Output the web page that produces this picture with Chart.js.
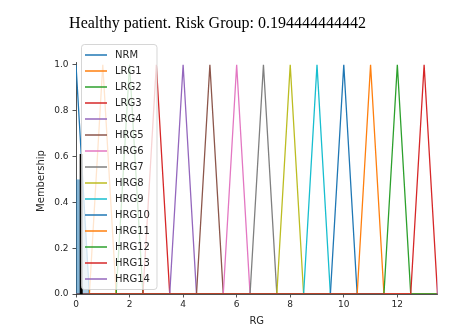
<!DOCTYPE html>
<html>
<head>
<meta charset="utf-8">
<script src="https://cdn.jsdelivr.net/npm/chart.js@4.4.1/dist/chart.umd.min.js"></script>
<style>
  html, body { margin: 0; padding: 0; background: #fff; }
  #chart { display: block; }
</style>
</head>
<body>
<canvas id="chart" width="468" height="335"></canvas>
<script>
/*
   FUZZY MEMBERSHIP DATA
 */
const termNames = ['NRM', 'LRG1', 'LRG2', 'LRG3', 'LRG4', 'HRG5', 'HRG6', 'HRG7',
                   'HRG8', 'HRG9', 'HRG10', 'HRG11', 'HRG12', 'HRG13', 'HRG14'];
const termLeft  = [0, 0.5, 1.5, 2.5, 3.5, 4.5, 5.5, 6.5, 7.5, 8.5, 9.5, 10.5, 11.5, 12.5, 13.5];
const termPeak  = [0, 1, 2, 3, 4, 5, 6, 7, 8, 9, 10, 11, 12, 13, 14];
const termRight = [0.5, 1.5, 2.5, 3.5, 4.5, 5.5, 6.5, 7.5, 8.5, 9.5, 10.5, 11.5, 12.5, 13.5, 14.5];
const termColors = ['#1f77b4', '#ff7f0e', '#2ca02c', '#d62728', '#9467bd', '#8c564b', '#e377c2',
                    '#7f7f7f', '#bcbd22', '#17becf', '#1f77b4', '#ff7f0e', '#2ca02c', '#d62728', '#9467bd'];

const universe = [0, 13.5];
const xTicks = [0, 2, 4, 6, 8, 10, 12];
const yTicks = [0, 0.2, 0.4, 0.6, 0.8, 1.0];

const crispValue = 0.194444444442;
const activation = 0.5;          // NRM cut level
const titleText = 'Healthy patient. Risk Group: ' + crispValue;

// triangle sampled at its corners, padded with zeros to the universe
function trimf(a, b, c) {
    const pts = [];
    const inside = a < universe[1];
    if (inside && a > universe[0]) pts.push({ x: universe[0], y: 0 });
    if (a < b) pts.push({ x: a, y: 0 });
    pts.push({ x: b, y: 1 });
    if (c > b) pts.push({ x: c, y: 0 });
    if (inside && c < universe[1]) pts.push({ x: universe[1], y: 0 });
    return pts;
}

const datasets = termNames.map((name, i) => ({
    label: name,
    data: trimf(termLeft[i], termPeak[i], termRight[i]),
    borderColor: termColors[i],
    backgroundColor: termColors[i],
    borderWidth: 1.3,
    pointRadius: 0,
    tension: 0,
    fill: false,
    order: -i
}));

// activated NRM area (cut at activation level)
const nrmCut = trimf(termLeft[0], termPeak[0], termRight[0]).map(p => ({ x: p.x, y: Math.min(p.y, activation) }));
nrmCut.splice(1, 0, { x: termRight[0] * (1 - activation), y: activation });
datasets.push({
    label: '_fill',
    data: nrmCut,
    borderWidth: 0,
    pointRadius: 0,
    backgroundColor: 'rgba(31,119,180,0.35)',
    fill: 'origin',
    order: -100
});
datasets.push({
    label: '_fill2',
    data: [{ x: 0, y: activation }, { x: crispValue, y: activation }],
    borderWidth: 0,
    pointRadius: 0,
    backgroundColor: 'rgba(31,119,180,0.3)',
    fill: 'origin',
    order: -101
});

// crisp value marker
const crispHeight = 1 - crispValue / termRight[0];
datasets.push({
    label: '_crisp',
    data: [{ x: crispValue, y: 0 }, { x: crispValue, y: crispHeight }],
    borderColor: '#000',
    borderWidth: 3,
    pointRadius: 0,
    fill: false,
    order: -102
});

// --- overlay: title, axis titles, legend ---
const overlay = {
    id: 'overlay',
    afterDatasetsDraw(chart) {
        const c = chart.ctx;
        const area = chart.chartArea;
        c.save();

        // legend box
        const bx = 81.5, by = 44.5, bw = 75.5, bh = 245;
        c.beginPath();
        c.roundRect(bx, by, bw, bh, 3);
        c.fillStyle = 'rgba(255,255,255,0.8)';
        c.fill();
        c.strokeStyle = 'rgba(204,204,204,0.8)';
        c.lineWidth = 1;
        c.stroke();

        c.font = '10px "DejaVu Sans"';
        c.textBaseline = 'middle';
        c.textAlign = 'left';
        termNames.forEach((name, i) => {
            const y = 55 + i * 16;
            c.beginPath();
            c.moveTo(85, y);
            c.lineTo(107, y);
            c.strokeStyle = termColors[i];
            c.lineWidth = 1.5;
            c.stroke();
            c.fillStyle = '#262626';
            c.fillText(name, 115, y);
        });

        // axis titles
        c.fillStyle = '#262626';
        c.font = '10px "DejaVu Sans"';
        c.textAlign = 'center';
        c.fillText('RG', (area.left + area.right) / 2, 321);
        c.translate(41, 181);
        c.rotate(-Math.PI / 2);
        c.fillText('Membership', 0, 0);
        c.restore();

        // title
        c.save();
        c.font = '16px "Liberation Serif"';
        c.fillStyle = '#000';
        c.textAlign = 'center';
        c.textBaseline = 'alphabetic';
        c.fillText(titleText, 217.5, 28);
        c.restore();
    }
};

const axisColor = '#262626';

new Chart(document.getElementById('chart'), {
    type: 'line',
    data: { datasets },
    options: {
        responsive: false,
        animation: false,
        devicePixelRatio: 1,
        layout: { padding: { left: 0, right: 30.5, top: 62.5, bottom: 0 } },
        plugins: {
            legend: { display: false },
            tooltip: { enabled: false },
            title: { display: false }
        },
        scales: {
            x: {
                type: 'linear',
                min: universe[0],
                max: universe[1],
                afterBuildTicks: s => { s.ticks = xTicks.map(v => ({ value: v })); },
                afterFit: s => { s.height = 41; },
                ticks: {
                    color: axisColor,
                    font: { family: 'DejaVu Sans', size: 9 },
                    padding: 2,
                    maxRotation: 0,
                    callback: v => String(v)
                },
                grid: { display: true, drawOnChartArea: false, drawTicks: true, tickLength: 3.5, color: axisColor, lineWidth: 0.8 },
                border: { display: true, color: axisColor, width: 0.8 }
            },
            y: {
                min: 0,
                max: 1.01,
                afterBuildTicks: s => { s.ticks = yTicks.map(v => ({ value: v })); },
                afterFit: s => { s.width = 76; },
                ticks: {
                    color: axisColor,
                    font: { family: 'DejaVu Sans', size: 9 },
                    padding: 4,
                    callback: v => v.toFixed(1)
                },
                grid: { display: true, drawOnChartArea: false, drawTicks: true, tickLength: 3.5, color: axisColor, lineWidth: 0.8 },
                border: { display: true, color: axisColor, width: 0.8 }
            }
        }
    },
    plugins: [overlay]
});
</script>
</body>
</html>
